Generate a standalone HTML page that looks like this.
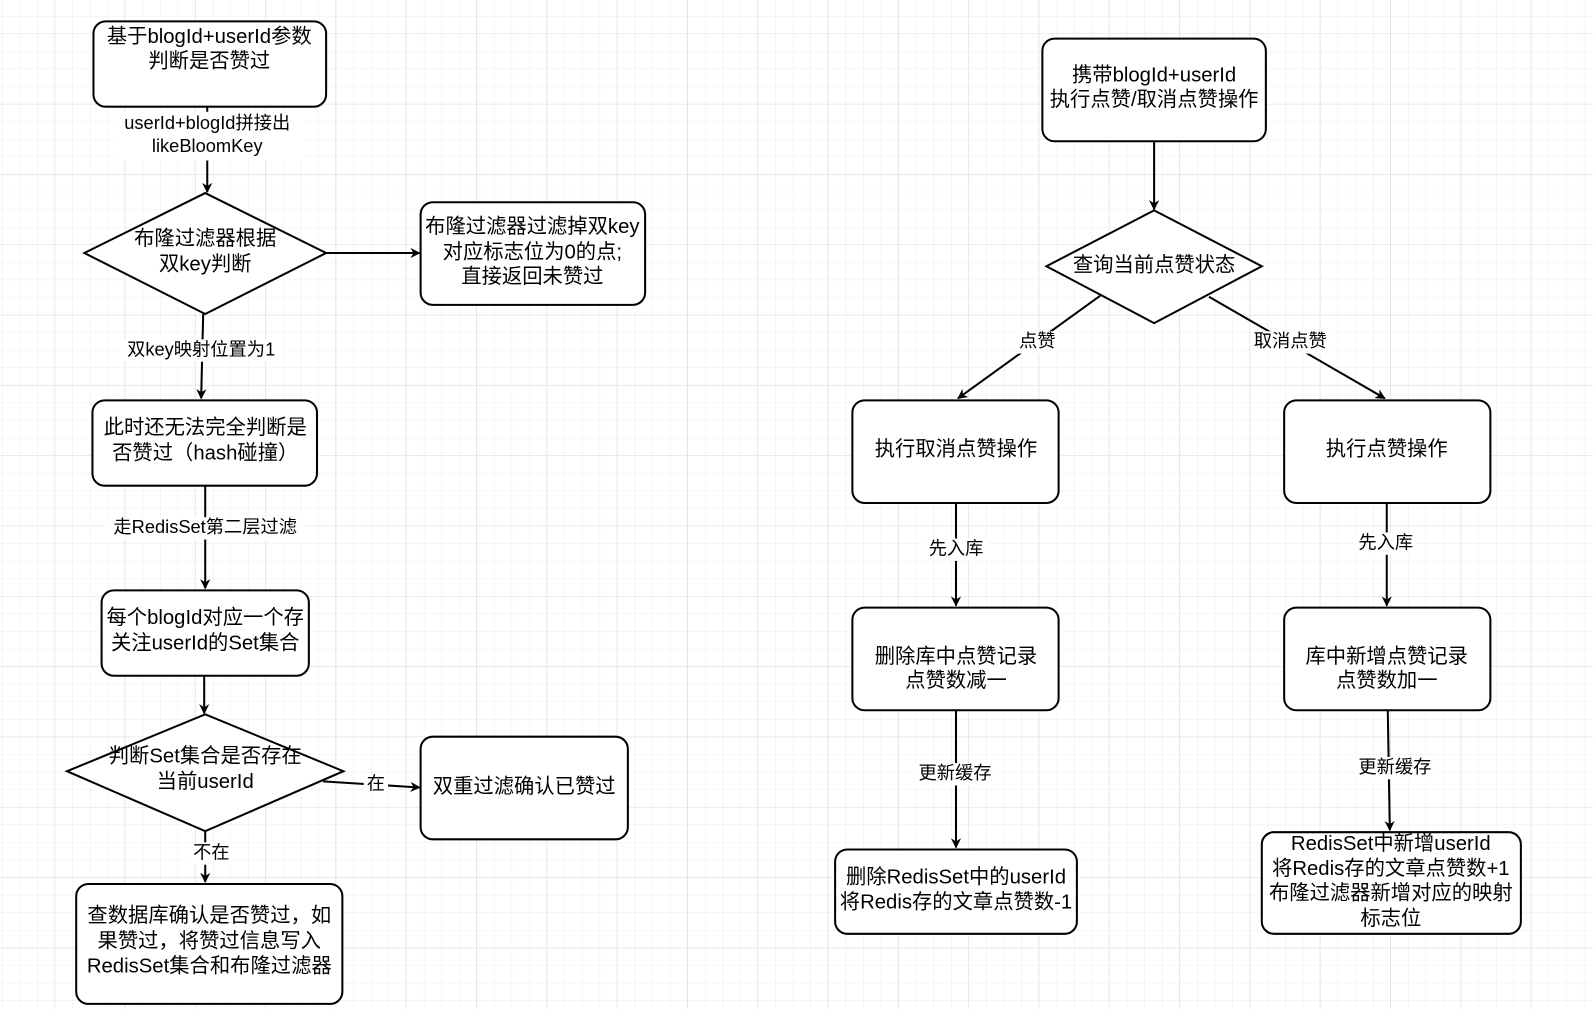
<!DOCTYPE html>
<html><head><meta charset="utf-8"><style>
html,body{margin:0;padding:0;background:#fff;overflow:hidden}
svg{display:block}
text{font-family:"Liberation Sans","Noto Sans CJK SC",sans-serif;fill:#000}
.n{font-size:20px;text-anchor:middle;dominant-baseline:middle}
.l{font-size:18px;text-anchor:middle;dominant-baseline:middle}
</style></head><body>
<svg width="1593" height="1009" viewBox="0 0 1568 993" preserveAspectRatio="none" xmlns="http://www.w3.org/2000/svg">
<defs>
<pattern id="g" width="17.3" height="17.3" patternUnits="userSpaceOnUse" x="2" y="15.7">
<path d="M0 0H17.3M0 0V17.3" stroke="#ececec" stroke-width="1" fill="none"/></pattern>
<pattern id="G" width="69.2" height="69.2" patternUnits="userSpaceOnUse" x="53.4" y="33">
<path d="M0 0H69.2M0 0V69.2" stroke="#dcdcdc" stroke-width="1" fill="none"/></pattern>
<marker id="a" markerWidth="10" markerHeight="10" refX="9" refY="5" orient="auto" markerUnits="userSpaceOnUse"><path d="M0 0L10 5L0 10L3 5Z" fill="#000"/></marker>
</defs>
<rect width="1568" height="993" fill="url(#g)"/>
<rect width="1568" height="993" fill="url(#G)"/>
<g stroke="#000" stroke-width="2" fill="none">
<line x1="204" y1="105" x2="204" y2="189" marker-end="url(#a)"/>
<line x1="321" y1="249" x2="413" y2="249" marker-end="url(#a)"/>
<line x1="200" y1="309" x2="198" y2="392" marker-end="url(#a)"/>
<line x1="202" y1="478" x2="202" y2="579" marker-end="url(#a)"/>
<line x1="201" y1="665" x2="201" y2="702" marker-end="url(#a)"/>
<line x1="318" y1="769" x2="413" y2="775" marker-end="url(#a)"/>
<line x1="202" y1="818" x2="202" y2="868" marker-end="url(#a)"/>
<line x1="1136" y1="139" x2="1136" y2="206" marker-end="url(#a)"/>
<line x1="1083" y1="291" x2="943" y2="392" marker-end="url(#a)"/>
<line x1="1190" y1="292" x2="1363" y2="392" marker-end="url(#a)"/>
<line x1="941" y1="495" x2="941" y2="596" marker-end="url(#a)"/>
<line x1="1365" y1="495" x2="1365" y2="596" marker-end="url(#a)"/>
<line x1="941" y1="699" x2="941" y2="834" marker-end="url(#a)"/>
<line x1="1366" y1="699" x2="1368" y2="817" marker-end="url(#a)"/>
</g>
<g stroke="#000" stroke-width="2" fill="#fff">
<rect x="92" y="21" width="229" height="84" rx="12"/>
<polygon points="83,249 202,190 321,249 202,309"/>
<rect x="414" y="199" width="221" height="101" rx="12"/>
<rect x="91" y="394" width="221" height="84" rx="12"/>
<rect x="100" y="581" width="204" height="84" rx="12"/>
<polygon points="66,759 202,703 338,759 202,818"/>
<rect x="414" y="725" width="204" height="101" rx="12"/>
<rect x="75" y="870" width="262" height="118" rx="12"/>
<rect x="1026" y="38" width="220" height="101" rx="12"/>
<polygon points="1030,262 1136,207 1242,262 1136,318"/>
<rect x="839" y="394" width="203" height="101" rx="12"/>
<rect x="1264" y="394" width="203" height="101" rx="12"/>
<rect x="839" y="598" width="203" height="101" rx="12"/>
<rect x="1264" y="598" width="203" height="101" rx="12"/>
<rect x="822" y="836" width="238" height="83" rx="12"/>
<rect x="1242" y="819" width="255" height="100" rx="12"/>
</g>
<g fill="#fff">
<rect x="112" y="110" width="186" height="48"/>
<rect x="118" y="334" width="160" height="22"/>
<rect x="104" y="509" width="196" height="22"/>
<rect x="358" y="761" width="24" height="22"/>
<rect x="186" y="829" width="44" height="22"/>
<rect x="1000" y="326" width="42" height="22"/>
<rect x="1232" y="326" width="78" height="22"/>
<rect x="910" y="530" width="62" height="22"/>
<rect x="1333" y="524" width="62" height="22"/>
<rect x="900" y="751" width="80" height="22"/>
<rect x="1333" y="745" width="80" height="22"/>
</g>
<text class="n" x="206" y="37">基于blogId+userId参数</text>
<text class="n" x="206" y="61">判断是否赞过</text>
<text class="l" x="204" y="122">userId+blogId拼接出</text>
<text class="l" x="204" y="145">likeBloomKey</text>
<text class="n" x="202" y="236">布隆过滤器根据</text>
<text class="n" x="202" y="261">双key判断</text>
<text class="n" x="524" y="224">布隆过滤器过滤掉双key</text>
<text class="n" x="524" y="249">对应标志位为0的点;</text>
<text class="n" x="524" y="273">直接返回未赞过</text>
<text class="l" x="198" y="345">双key映射位置为1</text>
<text class="n" x="202" y="422">此时还无法完全判断是</text>
<text class="n" x="202" y="447">否赞过（hash碰撞）</text>
<text class="l" x="202" y="520">走RedisSet第二层过滤</text>
<text class="n" x="202" y="609">每个blogId对应一个存</text>
<text class="n" x="202" y="634">关注userId的Set集合</text>
<text class="n" x="202" y="745">判断Set集合是否存在</text>
<text class="n" x="202" y="770">当前userId</text>
<text class="l" x="370" y="772">在</text>
<text class="n" x="516" y="775">双重过滤确认已赞过</text>
<text class="l" x="208" y="840">不在</text>
<text class="n" x="206" y="902">查数据库确认是否赞过，如</text>
<text class="n" x="206" y="927">果赞过，将赞过信息写入</text>
<text class="n" x="206" y="952">RedisSet集合和布隆过滤器</text>
<text class="n" x="1136" y="75">携带blogId+userId</text>
<text class="n" x="1136" y="99">执行点赞/取消点赞操作</text>
<text class="n" x="1136" y="262">查询当前点赞状态</text>
<text class="l" x="1021" y="337">点赞</text>
<text class="l" x="1270" y="337">取消点赞</text>
<text class="n" x="941" y="443">执行取消点赞操作</text>
<text class="n" x="1365" y="443">执行点赞操作</text>
<text class="l" x="941" y="541">先入库</text>
<text class="l" x="1364" y="535">先入库</text>
<text class="n" x="941" y="647">删除库中点赞记录</text>
<text class="n" x="941" y="671">点赞数减一</text>
<text class="n" x="1365" y="647">库中新增点赞记录</text>
<text class="n" x="1365" y="671">点赞数加一</text>
<text class="l" x="940" y="762">更新缓存</text>
<text class="l" x="1373" y="756">更新缓存</text>
<text class="n" x="941" y="864">删除RedisSet中的userId</text>
<text class="n" x="941" y="889">将Redis存的文章点赞数-1</text>
<text class="n" x="1369" y="831">RedisSet中新增userId</text>
<text class="n" x="1369" y="856">将Redis存的文章点赞数+1</text>
<text class="n" x="1369" y="880">布隆过滤器新增对应的映射</text>
<text class="n" x="1369" y="905">标志位</text>
</svg>
</body></html>
